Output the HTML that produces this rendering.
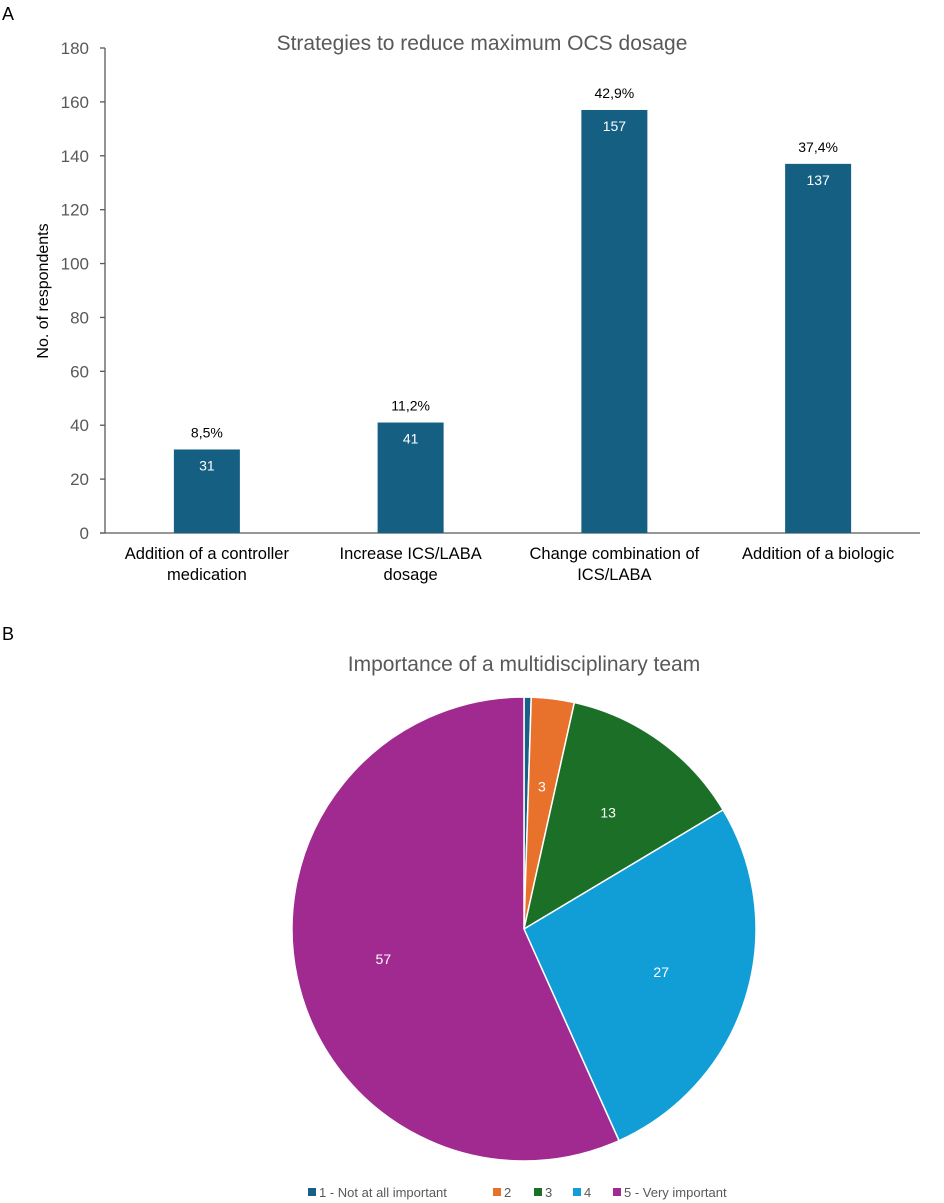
<!DOCTYPE html>
<html><head><meta charset="utf-8"><style>
body{margin:0;background:#fff;font-family:"Liberation Sans",Arial,sans-serif}
svg{display:block}
</style></head><body>
<svg width="944" height="1203" viewBox="0 0 944 1203">
<text x="2" y="20" font-size="18" fill="#000">A</text>
<text x="482" y="50" font-size="21" fill="#595959" text-anchor="middle">Strategies to reduce maximum OCS dosage</text>
<text transform="translate(48,291) rotate(-90)" font-size="16" fill="#000" text-anchor="middle">No. of respondents</text>
<g id="bars"></g>
<text x="2" y="640" font-size="18" fill="#000">B</text>
<text x="524" y="671" font-size="21" fill="#595959" text-anchor="middle">Importance of a multidisciplinary team</text>
<g id="pie"></g>
<g id="legend"></g>
</svg>
<script>
const categories=[["Addition of a controller","medication"],["Increase ICS/LABA","dosage"],["Change combination of","ICS/LABA"],["Addition of a biologic"]];
const values=[31,41,157,137];
const percents=["8,5%","11,2%","42,9%","37,4%"];
const yTicks=[0,20,40,60,80,100,120,140,160,180];
const pieLabels=["1 - Not at all important","2","3","4","5 - Very important"];
const pieValues=[0.5,3,13,27,57];
const pieColors=["#1a5f8a","#e8722c","#1c6f27","#119ed6","#a02a8f"];
const NS="http://www.w3.org/2000/svg";
function mk(t,a,p){const e=document.createElementNS(NS,t);for(const k in a)e.setAttribute(k,a[k]);p.appendChild(e);return e;}
const y0=533,y1=48,ax=105,axR=920;
const yS=v=>y0-(v/180)*(y0-y1);
const xS=i=>ax+(axR-ax)/4*(i+0.5);
const bars=document.getElementById('bars');
let l=mk('line',{x1:ax,y1:y1,x2:ax,y2:y0,stroke:'#595959','stroke-width':1.3},bars);


l=mk('line',{x1:ax-5,y1:y0,x2:axR,y2:y0,stroke:'#595959','stroke-width':1.3},bars);


yTicks.forEach(v=>{
 const t=mk('line',{x1:ax-5,y1:yS(v),x2:ax,y2:yS(v),stroke:'#595959','stroke-width':1.3},bars);
 
 
 const tx=mk('text',{x:89,y:yS(v)+6,'font-size':17,fill:'#595959','text-anchor':'end'},bars);
 tx.textContent=v;
 
 
});
values.forEach((v,i)=>{
 const cx=xS(i),w=66;
 const r=mk('rect',{x:cx-w/2,y:yS(v),width:w,height:y0-yS(v),fill:'#155f82'},bars);
 
 
 const vt=mk('text',{x:cx,y:yS(v)+21,'font-size':14,fill:'#fff','text-anchor':'middle'},bars);
 vt.textContent=v;
 
 
 const pt=mk('text',{x:cx,y:yS(v)-12,'font-size':14,fill:'#000','text-anchor':'middle'},bars);
 pt.textContent=percents[i];
 
 
 categories[i].forEach((s,j)=>{
  const c=mk('text',{x:cx,y:559+j*21,'font-size':16.5,fill:'#000','text-anchor':'middle'},bars);
  c.textContent=s;
  
  
 });
});
const pie=document.getElementById('pie');
const cx=524,cy=929,R=232;
const tot=pieValues.reduce((a,b)=>a+b,0);
let a0=-Math.PI/2;
pieValues.forEach((v,i)=>{
 const a1=a0+v/tot*2*Math.PI;
 const large=(a1-a0)>Math.PI?1:0;
 const d=`M${cx},${cy} L${cx+R*Math.cos(a0)},${cy+R*Math.sin(a0)} A${R},${R} 0 ${large} 1 ${cx+R*Math.cos(a1)},${cy+R*Math.sin(a1)} Z`;
 const p=mk('path',{d:d,fill:pieColors[i],stroke:'#fff','stroke-width':1.5},pie);
 
 
 if(v>=1){
  const am=(a0+a1)/2,rr=R*0.62;
  const t=mk('text',{x:cx+rr*Math.cos(am),y:cy+rr*Math.sin(am)+5,'font-size':14,fill:'#fff','text-anchor':'middle'},pie);
  t.textContent=v;
  
  
 }
 a0=a1;
});
const lg=document.getElementById('legend');
const lx=[308,493,534,573,613];
pieLabels.forEach((s,i)=>{
 const r=mk('rect',{x:lx[i],y:1188,width:8,height:8,fill:pieColors[i]},lg);
 
 
 const t=mk('text',{x:lx[i]+11,y:1197,'font-size':13,fill:'#595959'},lg);
 t.textContent=s;
 
 
});
</script>
</body></html>
